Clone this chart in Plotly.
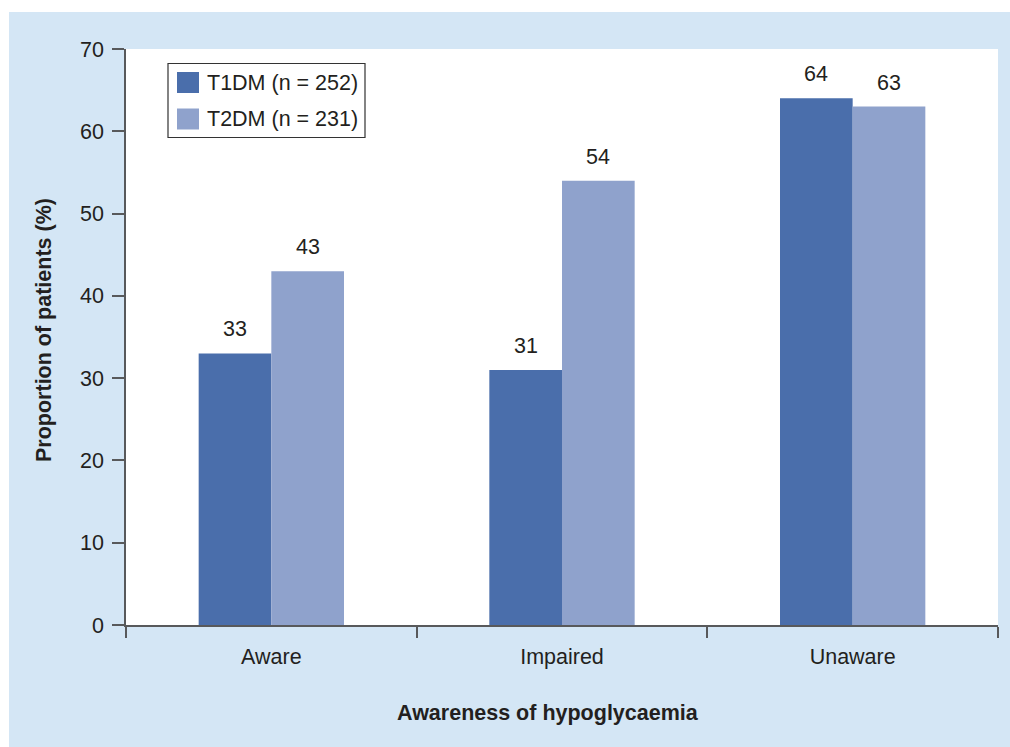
import plotly.graph_objects as go

# Data
categories = ["Aware", "Impaired", "Unaware"]
t1dm_values = [33, 31, 64]
t2dm_values = [43, 54, 63]
series_names = ["T1DM (n = 252)", "T2DM (n = 231)"]
y_ticks = [0, 10, 20, 30, 40, 50, 60, 70]

# Styling
W, H = 1010, 747
M_L, M_R, M_T, M_B = 126, 12, 49, 122
PANEL_BG = "#d4e6f5"
DARK_BLUE = "#4a6eab"
LIGHT_BLUE = "#8fa2cc"
TEXT = "#231f20"
AXIS = "#58595b"
FONT = "Liberation Sans, Arial, Helvetica, sans-serif"
FS = 21.5

plot_w = W - M_L - M_R
plot_h = H - M_T - M_B


def px(x):
    """Horizontal pixel position -> paper fraction."""
    return (x - M_L) / plot_w


def py(y):
    """Vertical pixel position (from top) -> paper fraction."""
    return (H - M_B - y) / plot_h


fig = go.Figure()
fig.add_trace(go.Bar(x=categories, y=t1dm_values, name=series_names[0],
                     marker=dict(color=DARK_BLUE, line=dict(width=0)),
                     showlegend=False))
fig.add_trace(go.Bar(x=categories, y=t2dm_values, name=series_names[1],
                     marker=dict(color=LIGHT_BLUE, line=dict(width=0)),
                     showlegend=False))

shapes = [
    # light blue panel with a thin white border at top/left
    dict(type="rect", xref="paper", yref="paper", layer="below",
         x0=px(9), x1=px(W + 5), y0=py(H + 5), y1=py(12),
         fillcolor=PANEL_BG, line=dict(width=0)),
    # white plotting area
    dict(type="rect", xref="paper", yref="paper", layer="below",
         x0=0, x1=1, y0=0, y1=1, fillcolor="white", line=dict(width=0)),
    # legend frame
    dict(type="rect", xref="paper", yref="paper",
         x0=px(168), x1=px(365), y0=py(137.5), y1=py(63.5),
         fillcolor="white", line=dict(color="#333333", width=1.2)),
    # legend swatches
    dict(type="rect", xref="paper", yref="paper",
         x0=px(177), x1=px(199), y0=py(93), y1=py(72),
         fillcolor=DARK_BLUE, line=dict(width=0)),
    dict(type="rect", xref="paper", yref="paper",
         x0=px(177), x1=px(199), y0=py(129.5), y1=py(108.5),
         fillcolor=LIGHT_BLUE, line=dict(width=0)),
]

annotations = [
    dict(text=series_names[0], xref="paper", yref="paper", x=px(205), y=py(82.5),
         xanchor="left", yanchor="middle", showarrow=False,
         font=dict(family=FONT, size=FS, color=TEXT)),
    dict(text=series_names[1], xref="paper", yref="paper", x=px(205), y=py(119),
         xanchor="left", yanchor="middle", showarrow=False,
         font=dict(family=FONT, size=FS, color=TEXT)),
    dict(text="<b>Awareness of hypoglycaemia</b>", xref="paper", yref="paper",
         x=px(548), y=py(713), xanchor="center", yanchor="middle", showarrow=False,
         font=dict(family=FONT, size=FS, color=TEXT)),
    dict(text="<b>Proportion of patients (%)</b>", xref="paper", yref="paper",
         x=px(44), y=py(330), xanchor="center", yanchor="middle", textangle=-90,
         showarrow=False, font=dict(family=FONT, size=FS, color=TEXT)),
]

# value labels above each bar
bar_half = plot_w / len(categories) * 0.5 / 2 / 2
for vals, shift in ((t1dm_values, -bar_half), (t2dm_values, bar_half)):
    for cat, v in zip(categories, vals):
        annotations.append(dict(text=str(v), x=cat, y=v, xref="x", yref="y",
                                xshift=shift, yshift=10, yanchor="bottom",
                                showarrow=False,
                                font=dict(family=FONT, size=FS, color=TEXT)))

fig.update_layout(
    width=W, height=H,
    margin=dict(l=M_L, r=M_R, t=M_T, b=M_B, pad=0),
    paper_bgcolor="white", plot_bgcolor="rgba(0,0,0,0)",
    barmode="group", bargap=0.5, bargroupgap=0,
    font=dict(family=FONT, size=FS, color=TEXT),
    shapes=shapes, annotations=annotations,
    showlegend=False,
)
fig.update_xaxes(
    type="category", tickson="boundaries", ticks="outside", ticklen=11,
    tickwidth=1.5, tickcolor=AXIS, showline=True, linecolor=AXIS, linewidth=1.5,
    showgrid=False, zeroline=False, ticklabelstandoff=11,
    tickfont=dict(family=FONT, size=FS, color=TEXT),
)
fig.update_yaxes(
    range=[0, 70], tickvals=y_ticks, ticks="outside", ticklen=12, tickwidth=1.5,
    tickcolor=AXIS, showline=True, linecolor=AXIS, linewidth=1.5,
    showgrid=False, zeroline=False, ticklabelstandoff=4,
    tickfont=dict(family=FONT, size=FS, color=TEXT),
)

fig.write_html("out.html")
